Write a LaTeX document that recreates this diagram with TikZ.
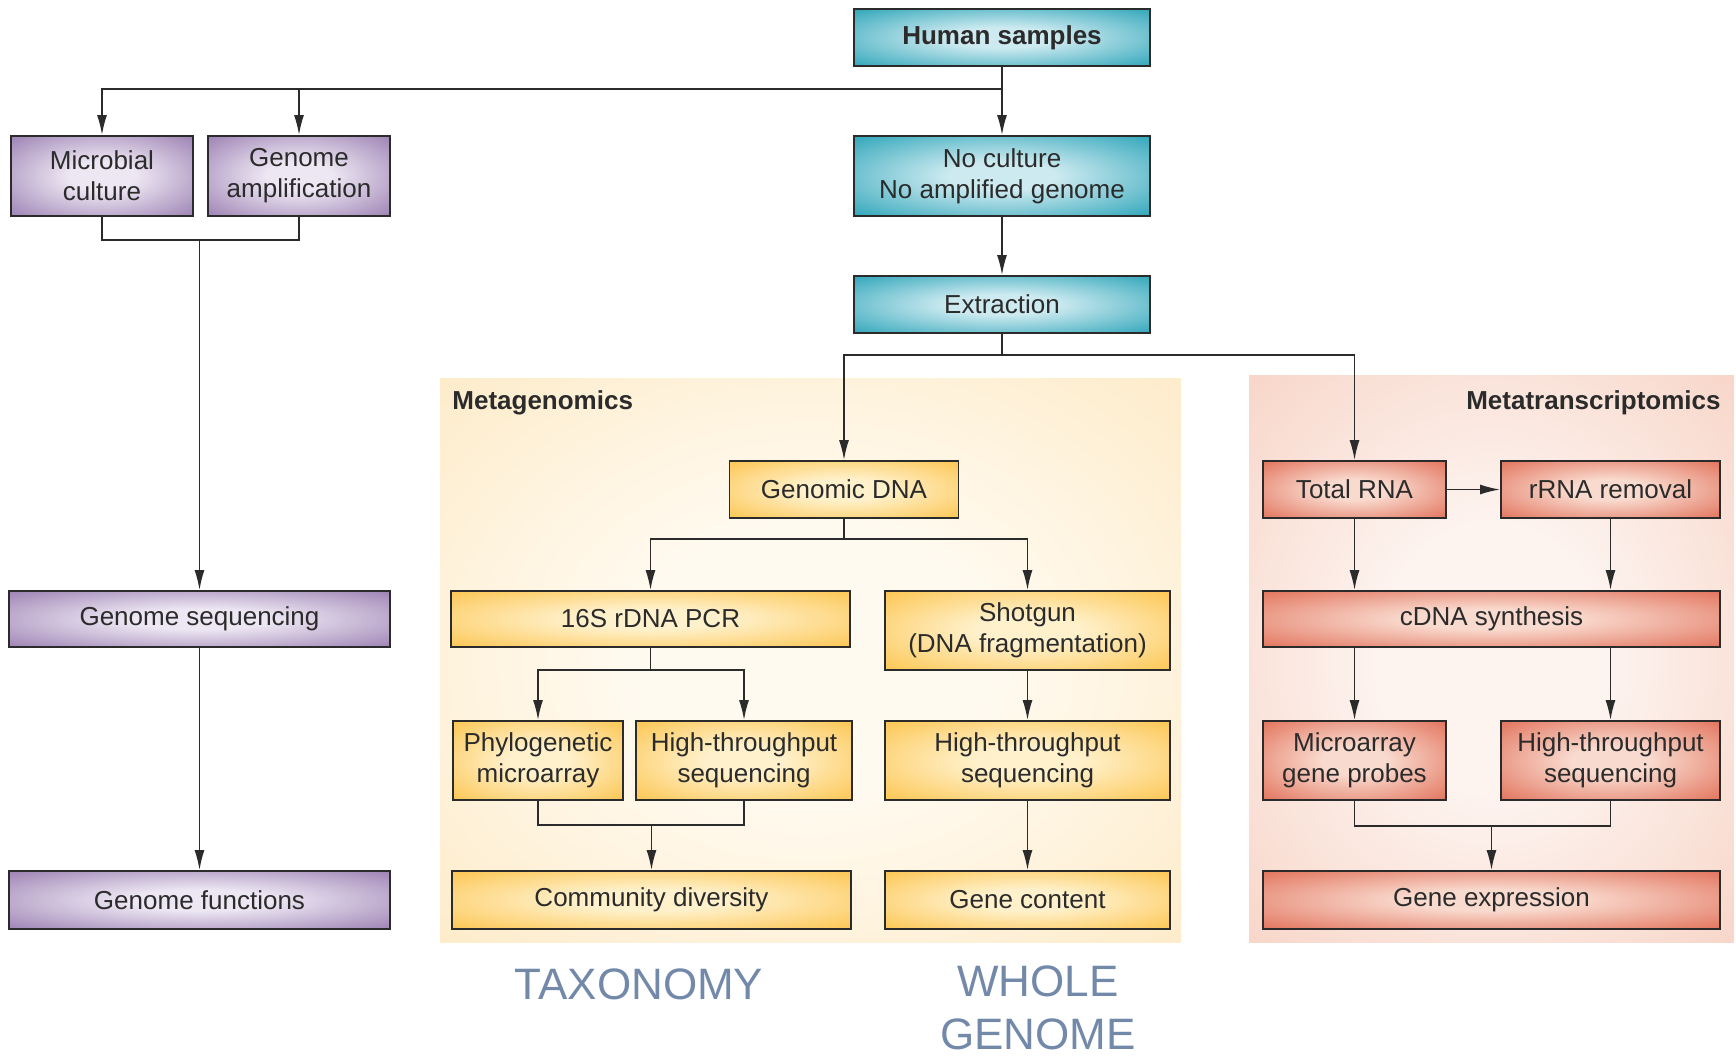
\documentclass[tikz,border=0pt]{standalone}
\usepackage{fontspec}
\setmainfont{Liberation Sans}
\usetikzlibrary{arrows.meta}

\definecolor{tealout}{HTML}{22A0B5}
\definecolor{tealin}{HTML}{CDEAF0}
\definecolor{purpout}{HTML}{9679AE}
\definecolor{purpin}{HTML}{EDE7F3}
\definecolor{yellout}{HTML}{FCC247}
\definecolor{yellin}{HTML}{FFF1CC}
\definecolor{redout}{HTML}{E06A52}
\definecolor{redin}{HTML}{F9DACE}
\definecolor{metagout}{HTML}{FDE2B0}
\definecolor{metagin}{HTML}{FFFAF0}
\definecolor{metatout}{HTML}{F4C2AE}
\definecolor{metatin}{HTML}{FDF3EF}
\definecolor{linec}{HTML}{2B2B2B}
\definecolor{labelc}{HTML}{7389AA}

\pgfdeclareradialshading{tealglow}{\pgfpoint{0bp}{0bp}}{color(0bp)=(tealin); color(9bp)=(tealin); color(38bp)=(tealout); color(75bp)=(tealout)}
\pgfdeclareradialshading{purpglow}{\pgfpoint{0bp}{0bp}}{color(0bp)=(purpin); color(9bp)=(purpin); color(38bp)=(purpout); color(75bp)=(purpout)}
\pgfdeclareradialshading{yellglow}{\pgfpoint{0bp}{0bp}}{color(0bp)=(yellin); color(9bp)=(yellin); color(38bp)=(yellout); color(75bp)=(yellout)}
\pgfdeclareradialshading{redglow}{\pgfpoint{0bp}{0bp}}{color(0bp)=(redin); color(9bp)=(redin); color(38bp)=(redout); color(75bp)=(redout)}
\pgfdeclareradialshading{metagglow}{\pgfpoint{0bp}{0bp}}{color(0bp)=(metagin); color(12bp)=(metagin); color(52bp)=(metagout); color(75bp)=(metagout)}
\pgfdeclareradialshading{metatglow}{\pgfpoint{0bp}{0bp}}{color(0bp)=(metatin); color(12bp)=(metatin); color(52bp)=(metatout); color(75bp)=(metatout)}

\begin{document}
\begin{tikzpicture}[x=0.5pt,y=-0.5pt,
	font=\fontsize{13}{15.5}\selectfont,
	box/.style={draw=linec,line width=0.9pt,inner sep=0pt,align=center,text=linec},
	tealbox/.style={box,shading=tealglow},
	purpbox/.style={box,shading=purpglow},
	yellbox/.style={box,shading=yellglow},
	redbox/.style={box,shading=redglow},
	title/.style={inner sep=0pt,text=linec,font=\fontsize{13}{15.5}\selectfont\bfseries},
	link/.style={draw=linec,line width=0.85pt},
	arr/.style={link,-{Latex[length=10pt,width=5pt]}},
	bigtext/.style={text=labelc,font=\fontsize{22}{26.5}\selectfont,align=center}]

	\useasboundingbox (0,0) rectangle (1736,1056);

	% backgrounds
	\shade[shading=metagglow] (440,378) rectangle (1181,942);
	\shade[shading=metatglow] (1249,375) rectangle (1734,942);
	\node[title,anchor=west] (metag) at (452,403) {Metagenomics};
	\node[title,anchor=east] (metat) at (1721,403) {Metatranscriptomics};

	% culture side
	\node[tealbox,minimum width=148pt,minimum height=28.5pt,font=\fontsize{13}{15.5}\selectfont\bfseries] (hs) at (1002,37.5) {Human samples};
	\node[purpbox,minimum width=91pt,minimum height=40pt] (mc) at (102,176) {Microbial\\culture};
	\node[purpbox,minimum width=91pt,minimum height=40pt] (ga) at (299,176) {Genome\\amplification};
	\node[purpbox,minimum width=190.5pt,minimum height=28pt] (gs) at (199.5,619) {Genome sequencing};
	\node[purpbox,minimum width=190.5pt,minimum height=29pt] (gf) at (199.5,900) {Genome functions};

	% no culture side
	\node[tealbox,minimum width=148pt,minimum height=40pt] (nc) at (1002,176) {No culture\\No amplified genome};
	\node[tealbox,minimum width=148pt,minimum height=28.5pt] (ex) at (1002,304.5) {Extraction};

	% metagenomics
	\node[yellbox,minimum width=114.5pt,minimum height=28.5pt] (gd) at (844,489.5) {Genomic DNA};
	\node[yellbox,minimum width=199.5pt,minimum height=28pt] (pcr) at (650.5,619) {16S rDNA PCR};
	\node[yellbox,minimum width=142.5pt,minimum height=39.5pt] (sg) at (1027.5,630.5) {Shotgun\\(DNA fragmentation)};
	\node[yellbox,minimum width=85pt,minimum height=39.5pt] (pm) at (538,760.5) {Phylogenetic\\microarray};
	\node[yellbox,minimum width=108pt,minimum height=39.5pt] (hta) at (744,760.5) {High-throughput\\sequencing};
	\node[yellbox,minimum width=142.5pt,minimum height=39.5pt] (htb) at (1027.5,760.5) {High-throughput\\sequencing};
	\node[yellbox,minimum width=199.5pt,minimum height=29pt] (cd) at (651.5,900) {Community diversity};
	\node[yellbox,minimum width=142.5pt,minimum height=29pt] (gc) at (1027.5,900) {Gene content};

	% metatranscriptomics
	\node[redbox,minimum width=91.5pt,minimum height=28.5pt] (tr) at (1354.5,489.5) {Total RNA};
	\node[redbox,minimum width=109.5pt,minimum height=28.5pt] (rr) at (1610.5,489.5) {rRNA removal};
	\node[redbox,minimum width=228.5pt,minimum height=28pt] (cs) at (1491.5,619) {cDNA synthesis};
	\node[redbox,minimum width=91.5pt,minimum height=39.5pt] (mg) at (1354.5,760.5) {Microarray\\gene probes};
	\node[redbox,minimum width=109.5pt,minimum height=39.5pt] (htc) at (1610.5,760.5) {High-throughput\\sequencing};
	\node[redbox,minimum width=228.5pt,minimum height=29pt] (ge) at (1491.5,900) {Gene expression};

	\node[bigtext] (tax) at (639,984) {TAXONOMY};
	\node[bigtext] (wg) at (1038,1008) {WHOLE\\GENOME};

	% connectors
	\coordinate (top) at (1002,89);
	\coordinate (jcult) at (199.5,240);
	\coordinate (jext) at (1002,355);
	\coordinate (jdna) at (844,539);
	\coordinate (jpcr) at (650.5,670);
	\coordinate (jtax) at (651.5,825);
	\coordinate (jrna) at (1491.5,826);

	\path[link] (hs.south) -- (top);
	\path[arr] (top) -| (mc.north);
	\path[arr] (top) -| (ga.north);
	\path[arr] (top) -- (nc.north);
	\path[link] (mc.south) |- (jcult) -| (ga.south);
	\path[arr] (jcult) -- (gs.north);
	\path[arr] (gs.south) -- (gf.north);

	\path[arr] (nc.south) -- (ex.north);
	\path[link] (ex.south) -- (jext);
	\path[arr] (jext) -| (gd.north);
	\path[arr] (jext) -| (tr.north);

	\path[link] (gd.south) -- (jdna);
	\path[arr] (jdna) -| (pcr.north);
	\path[arr] (jdna) -| (sg.north);
	\path[link] (pcr.south) -- (jpcr);
	\path[arr] (jpcr) -| (pm.north);
	\path[arr] (jpcr) -| (hta.north);
	\path[link] (pm.south) |- (jtax) -| (hta.south);
	\path[arr] (jtax) -- (cd.north);
	\path[arr] (sg.south) -- (htb.north);
	\path[arr] (htb.south) -- (gc.north);

	\path[arr] (tr.east) -- (rr.west);
	\path[arr] (tr.south) -- (tr.south |- cs.north);
	\path[arr] (rr.south) -- (rr.south |- cs.north);
	\path[arr] (cs.south -| mg.north) -- (mg.north);
	\path[arr] (cs.south -| htc.north) -- (htc.north);
	\path[link] (mg.south) |- (jrna) -| (htc.south);
	\path[arr] (jrna) -- (ge.north);

\end{tikzpicture}
\end{document}
